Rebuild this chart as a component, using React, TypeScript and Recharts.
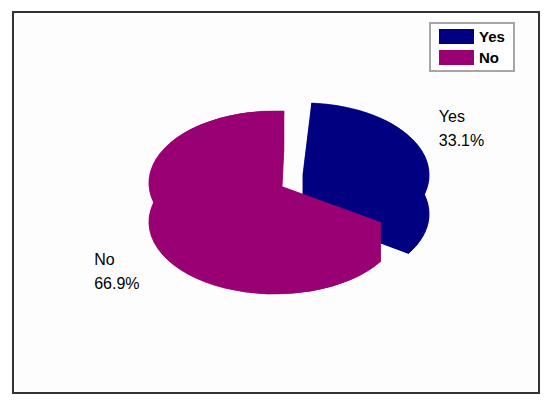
import React from "react";
import { PieChart, Pie, Cell, Legend } from "recharts";

const categories = ["Yes", "No"];
const shares = [33.1, 66.9];
const colors = ["#000080", "#990073"];
const data = categories.map((name, i) => ({ name, value: shares[i] }));

// drawing style of the tilted pie
const TILT = 72 / 126;
const DEPTH = 39;
const explode: Record<string, [number, number]> = { Yes: [28, -8], No: [0, 0] };
const apexShift: Record<string, [number, number]> = { Yes: [0, 0], No: [5, 3] };
const labelShift: Record<string, [number, number]> = { Yes: [23, -21], No: [-68, 50] };

const RAD = Math.PI / 180;

function TiltedSlice(props: any) {
  const { cx, cy, outerRadius, startAngle, endAngle, fill, name } = props;
  const [ox, oy] = explode[name] || [0, 0];
  const [ax, ay] = apexShift[name] || [0, 0];
  const rx = outerRadius;
  const ry = outerRadius * TILT;
  const cX = cx + ox;
  const cY = cy + oy;
  const pt = (a: number, d = 0) => [cX + rx * Math.cos(a * RAD), cY - ry * Math.sin(a * RAD) + d];
  const apex = [cX + ax, cY + ay];
  const large = Math.abs(startAngle - endAngle) > 180 ? 1 : 0;
  const p0 = pt(startAngle);
  const p1 = pt(endAngle);
  const q0 = pt(startAngle, DEPTH);
  const q1 = pt(endAngle, DEPTH);
  const face = (d: number) => {
    const a = pt(startAngle, d);
    const b = pt(endAngle, d);
    return `M${apex[0]},${apex[1] + d} L${a[0]},${a[1]} A${rx},${ry} 0 ${large} 1 ${b[0]},${b[1]} Z`;
  };
  const rim = `M${p0[0]},${p0[1]} A${rx},${ry} 0 ${large} 1 ${p1[0]},${p1[1]} L${q1[0]},${q1[1]} A${rx},${ry} 0 ${large} 0 ${q0[0]},${q0[1]} Z`;
  const wall = (p: number[], q: number[]) =>
    `M${apex[0]},${apex[1]} L${p[0]},${p[1]} L${q[0]},${q[1]} L${apex[0]},${apex[1] + DEPTH} Z`;
  const common = { fill, stroke: fill, strokeWidth: 0.5 };
  return (
    <g>
      <path d={face(DEPTH)} {...common} />
      <path d={wall(p0, q0)} {...common} />
      <path d={wall(p1, q1)} {...common} />
      <path d={rim} {...common} />
      <path d={face(0)} {...common} />
    </g>
  );
}

function SliceLabel(props: any) {
  const { cx, cy, midAngle, outerRadius, name, value } = props;
  const [ox, oy] = explode[name] || [0, 0];
  const [sx, sy] = labelShift[name] || [0, 0];
  const x = cx + ox + outerRadius * Math.cos(midAngle * RAD) + sx;
  const y = cy + oy - outerRadius * TILT * Math.sin(midAngle * RAD) + sy;
  return (
    <text x={x} y={y} fill="#000" fontFamily="Liberation Sans" fontSize={16}>
      <tspan x={x}>{name}</tspan>
      <tspan x={x} dy={24}>{`${value.toFixed(1)}%`}</tspan>
    </text>
  );
}

function LegendBox() {
  return (
    <div
      style={{
        position: "absolute",
        left: 429,
        top: 22,
        width: 86,
        height: 50,
        boxSizing: "border-box",
        border: "2px solid #a6a6a6",
        background: "#fff",
        fontFamily: "Liberation Sans",
        fontWeight: 700,
        fontSize: 15,
        color: "#000",
      }}
    >
      {categories.map((c, i) => (
        <div key={c} style={{ position: "absolute", left: 8, top: 5 + i * 21, height: 15, display: "flex", alignItems: "center" }}>
          <span style={{ width: 35, height: 15, background: colors[i], display: "inline-block", marginRight: 5 }} />
          <span>{c}</span>
        </div>
      ))}
    </div>
  );
}

export default function App() {
  return (
    <div style={{ position: "absolute", left: 0, top: 0, width: 550, height: 406, background: "#fff" }}>
      <div
        style={{
          position: "absolute",
          left: 12,
          top: 11,
          width: 524,
          height: 379,
          border: "2px solid #333",
          background: "#fdfdfd",
        }}
      />
      <div style={{ position: "absolute", left: 0, top: 0 }}>
        <PieChart width={550} height={406} margin={{ top: 0, right: 0, bottom: 0, left: 0 }}>
          <Pie
            data={data}
            dataKey="value"
            nameKey="name"
            cx={275}
            cy={183}
            outerRadius={126}
            startAngle={86}
            endAngle={-274}
            stroke="none"
            isAnimationActive={false}
            shape={TiltedSlice}
            label={SliceLabel}
            labelLine={false}
          >
            {categories.map((c, i) => (
              <Cell key={c} fill={colors[i]} />
            ))}
          </Pie>
          <Legend
            layout="horizontal"
            verticalAlign="middle"
            align="center"
            wrapperStyle={{ position: "absolute", left: 0, top: 0, width: 0, height: 0 }}
            content={() => <LegendBox />}
          />
        </PieChart>
      </div>
    </div>
  );
}
